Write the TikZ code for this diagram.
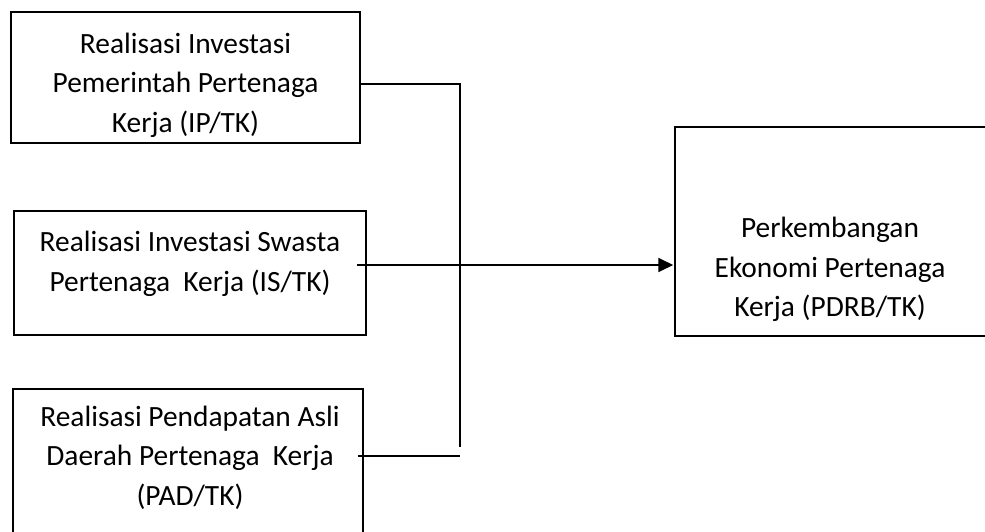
\documentclass[tikz,border=0pt]{standalone}
\usepackage{fontspec}
\setmainfont{Carlito}
\usetikzlibrary{arrows.meta}
\begin{document}
\begin{tikzpicture}[x=1pt,y=-1pt,
  box/.style={draw, line width=1.5pt, rectangle, inner sep=0pt},
  lbl/.style={align=center, inner sep=0pt, font=\fontsize{29.4}{39.5}\selectfont},
  wire/.style={line width=1.8pt}]
\useasboundingbox (0,0) rectangle (985,532);
% boxes
\node[box, minimum width=349pt, minimum height=131pt] (b1) at (185.5,77.5) {};
\node[box, minimum width=352pt, minimum height=124pt] (b2) at (190,273) {};
\node[box, minimum width=350pt, minimum height=156pt] (b3) at (188,467) {};
\node[box, minimum width=315pt, minimum height=209pt] (b4) at (832.5,231.5) {};
% labels
\node[lbl] (t1) at (185.5,85) {Realisasi Investasi\\Pemerintah Pertenaga\\Kerja (IP/TK)};
\node[lbl] (t2) at (190,264) {Realisasi Investasi Swasta\\Pertenaga\ \ Kerja (IS/TK)};
\node[lbl] (t3) at (190,457.5) {Realisasi Pendapatan Asli\\Daerah Pertenaga\ \ Kerja\\(PAD/TK)};
\node[lbl] (t4) at (830,269.5) {Perkembangan\\Ekonomi Pertenaga\\Kerja (PDRB/TK)};
% connectors
\coordinate (k1) at (460,84);
\coordinate (k1e) at (460,447);
\coordinate (k3) at (460,456);
\coordinate (a2) at (357,265);
\draw[wire] ([xshift=-2pt]b1.east |- k1) -- (k1) -- (k1e);
\draw[wire] ([xshift=-6pt]b3.east |- k3) -- (k3);
\draw[wire, -{Triangle[length=15pt,width=14pt]}, shorten >=1pt] (a2) -- (a2 -| b4.west);
\end{tikzpicture}
\end{document}
